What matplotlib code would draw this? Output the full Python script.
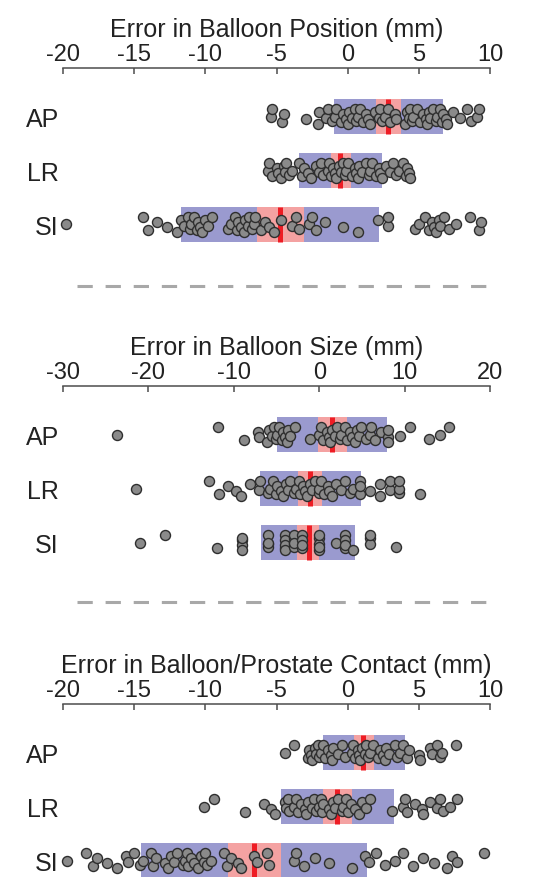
import numpy as np
import matplotlib.pyplot as plt
from matplotlib.lines import Line2D

plt.rcParams['font.family'] = ['Liberation Sans', 'DejaVu Sans']

categories = ['AP', 'LR', 'SI']

# --- Error in balloon position (mm)
pos_ap = [-5.4, -5.3, -4.6, -4.5, -2.9, -2.1, -2.0, -1.5, -1.4, -1.1, -0.9, -0.8, -0.5,
          -0.3, -0.1, 0.0, 0.1, 0.3, 0.5, 0.6, 0.7, 0.9, 1.1, 1.3, 1.4, 1.6, 1.9, 2.2,
          2.3, 2.4, 2.6, 2.8, 3.0, 3.3, 3.4, 4.0, 4.2, 4.3, 4.4, 4.5, 4.6, 4.9, 5.1,
          5.3, 5.5, 5.6, 5.7, 5.8, 6.0, 6.2, 6.3, 6.5, 6.6, 6.7, 6.9, 7.0, 7.4, 7.9,
          8.4, 8.7, 9.1, 9.2]
pos_lr = [-5.6, -5.5, -5.3, -5.0, -4.9, -4.7, -4.5, -4.4, -4.3, -4.1, -3.9, -3.4, -3.2,
          -3.1, -2.8, -2.6, -2.2, -2.0, -1.9, -1.7, -1.4, -1.3, -1.2, -1.0, -0.9, -0.8,
          -0.6, -0.5, -0.3, -0.2, -0.1, 0.0, 0.3, 0.5, 0.6, 0.7, 0.8, 1.0, 1.3, 1.5,
          1.6, 1.7, 2.0, 2.2, 2.3, 2.4, 2.7, 3.0, 3.2, 3.4, 3.6, 3.9, 4.1, 4.2, 4.3, 4.4]
pos_si = [-19.8, -14.4, -14.0, -13.4, -12.7, -12.0, -11.7, -11.5, -11.2, -11.1, -11.0,
          -10.8, -10.6, -10.5, -10.4, -10.2, -10.0, -9.8, -9.5, -8.4, -8.2, -7.9, -7.8,
          -7.7, -7.5, -7.3, -7.2, -7.0, -6.9, -6.7, -6.6, -6.5, -6.1, -5.8, -5.5, -5.2,
          -4.7, -3.9, -3.6, -3.4, -2.7, -2.5, -2.2, -1.6, -0.3, 0.7, 2.1, 2.8, 2.8, 4.7,
          5.0, 5.4, 5.7, 5.9, 6.1, 6.2, 6.4, 6.5, 6.8, 7.1, 7.6, 8.6, 9.2, 9.4]
pos_sd_lo = [-0.94, -3.40, -11.70]
pos_sd_hi = [6.70, 2.38, 2.18]
pos_ci_lo = [2.02, -1.20, -6.38]
pos_ci_hi = [3.78, 0.20, -3.10]
pos_mean = [2.82, -0.57, -4.77]

# --- Error in balloon size (mm)
size_ap = [-23.7, -11.8, -8.8, -7.2, -7.0, -6.1, -5.9, -5.5, -5.3, -5.1, -4.9, -4.7,
           -4.4, -4.2, -4.0, -3.8, -3.6, -3.4, -2.8, -1.1, 0.0, 0.2, 0.5, 0.9, 1.1, 1.3,
           1.5, 1.9, 2.1, 2.4, 2.6, 3.0, 3.3, 3.6, 3.8, 4.2, 4.4, 4.7, 4.9, 5.5, 5.9,
           6.1, 6.5, 7.2, 8.1, 8.1, 8.1, 9.5, 10.6, 12.9, 14.1, 15.2]
size_lr = [-21.5, -12.9, -11.7, -10.7, -9.8, -9.1, -8.1, -7.1, -6.9, -6.0, -5.8, -5.4,
           -5.1, -4.9, -4.5, -4.2, -3.9, -3.6, -3.4, -3.0, -2.7, -2.4, -2.2, -1.9, -1.7,
           -1.4, -1.1, -0.9, -0.5, 0.0, 0.0, 0.2, 0.6, 1.0, 1.2, 1.5, 2.0, 2.5, 3.0,
           3.6, 4.0, 4.8, 4.8, 4.8, 5.9, 7.1, 7.1, 8.3, 8.3, 9.4, 9.4, 9.4, 11.8]
size_si = [-21.0, -18.0, -12.0, -9, -9, -9, -9, -6, -6, -6, -6, -4, -4, -4, -4, -4,
           -3, -3, -3, -3, -3, -2, -2, -2, -2, 0, 0, 0, 0, 0, 2, 3, 3, 3, 3, 4, 6, 6, 6, 9]
size_sd_lo = [-5.0, -6.95, -6.76]
size_sd_hi = [7.97, 4.84, 4.18]
size_ci_lo = [-0.12, -2.5, -2.61]
size_ci_hi = [3.2, 0.33, 0.03]
size_mean = [1.45, -1.08, -1.25]

# --- Error in balloon/prostate contact (mm)
cont_ap = [-4.4, -3.8, -2.8, -2.7, -2.6, -2.5, -2.3, -2.2, -2.1, -2.0, -1.9, -1.7, -1.6,
           -1.4, -1.2, -1.1, -1.0, -0.7, -0.4, -0.2, 0.3, 0.4, 0.5, 0.7, 0.8, 0.9, 1.0,
           1.2, 1.3, 1.4, 1.6, 1.8, 2.1, 2.3, 2.5, 2.6, 2.7, 2.9, 3.3, 3.5, 3.7, 3.9,
           4.2, 4.3, 5.0, 5.1, 5.8, 5.9, 6.3, 6.5, 6.6, 7.6]
cont_lr = [-10.1, -9.4, -7.2, -5.9, -5.4, -5.1, -4.4, -4.3, -4.2, -4.1, -3.8, -3.6, -3.5,
           -3.3, -3.0, -2.9, -2.8, -2.5, -2.4, -2.2, -2.0, -1.9, -1.8, -1.7, -1.3, -1.2,
           -1.0, -0.9, -0.7, -0.4, -0.3, -0.1, 0.0, 0.2, 0.5, 0.8, 1.0, 1.3, 1.6, 3.1,
           3.9, 4.0, 4.2, 4.7, 5.2, 5.3, 5.8, 6.3, 6.5, 6.7, 7.2, 7.7]
cont_si = [-19.7, -18.4, -17.9, -17.6, -16.9, -16.2, -15.6, -15.4, -15.0, -14.6, -14.4,
           -13.8, -13.7, -13.5, -12.8, -12.6, -12.4, -12.2, -12.0, -11.6, -11.4, -11.3,
           -11.2, -11.0, -10.8, -10.5, -10.3, -10.1, -10.0, -9.9, -9.6, -8.7, -8.5, -8.2,
           -7.7, -7.5, -6.6, -6.4, -5.7, -5.5, -3.8, -3.6, -3.1, -2.3, -1.3, 0.3, 1.2,
           1.5, 2.0, 2.6, 3.3, 3.9, 4.6, 5.3, 6.1, 7.0, 7.3, 7.7, 9.6]
cont_sd_lo = [-1.71, -4.69, -14.5]
cont_sd_hi = [4.06, 3.29, 1.34]
cont_ci_lo = [0.47, -1.71, -8.44]
cont_ci_hi = [1.88, 0.28, -4.66]
cont_mean = [1.1, -0.72, -6.55]

panels = [
    ('Error in Balloon Position (mm)', (-20, 10), [-20, -15, -10, -5, 0, 5, 10],
     [pos_ap, pos_lr, pos_si], pos_sd_lo, pos_sd_hi, pos_ci_lo, pos_ci_hi, pos_mean, 69),
    ('Error in Balloon Size (mm)', (-30, 20), [-30, -20, -10, 0, 10, 20],
     [size_ap, size_lr, size_si], size_sd_lo, size_sd_hi, size_ci_lo, size_ci_hi, size_mean, 387),
    ('Error in Balloon/Prostate Contact (mm)', (-20, 10), [-20, -15, -10, -5, 0, 5, 10],
     [cont_ap, cont_lr, cont_si], cont_sd_lo, cont_sd_hi, cont_ci_lo, cont_ci_hi, cont_mean, 705),
]

W, H = 540, 878
ROW = 54.0          # px between rows
FIRST = 48.5        # px from axis line to first row
jitter = np.array([0.0, -0.13, 0.11, -0.05, 0.05, 0.13, -0.09, 0.02, -0.14, 0.08])
box_h = 0.63

fig = plt.figure(figsize=(W / 100, H / 100), dpi=100)

for title, xlim, ticks, pts, sd_lo, sd_hi, ci_lo, ci_hi, mean, top_px in panels:
    ytop = 1 - FIRST / ROW
    ybot = 3.6
    h_px = (ybot - ytop) * ROW
    ax = fig.add_axes([63 / W, 1 - (top_px + h_px) / H, 427 / W, h_px / H])
    for i in range(3):
        y = i + 1
        ax.barh(y, sd_hi[i] - sd_lo[i], left=sd_lo[i], height=box_h,
                color='#9a9acf', zorder=1)
        ax.barh(y, ci_hi[i] - ci_lo[i], left=ci_lo[i], height=box_h,
                color='#f4a2a2', zorder=2)
        ax.vlines(mean[i], y - box_h / 2, y + box_h / 2, color='#ee1c24',
                  lw=3.6, zorder=3)
        x = np.sort(np.array(pts[i], dtype=float))
        off = np.resize(jitter, len(x))
        ax.scatter(x, y + off, s=52, c='#8a8a8a', edgecolors='#2e2e2e',
                   linewidths=1.0, zorder=4, clip_on=False)
    ax.set_xlim(xlim)
    ax.set_ylim(ybot, ytop)
    ax.set_xticks(ticks)
    ax.set_xticklabels([str(t) for t in ticks])
    ax.set_yticks([1, 2, 3])
    ax.set_yticklabels(categories)
    ax.xaxis.tick_top()
    ax.xaxis.set_label_position('top')
    ax.set_xlabel(title, fontsize=18, labelpad=5, color='#222222')
    ax.tick_params(axis='x', direction='in', length=4, width=1.1, pad=2,
                   labelsize=17, color='#4d4d4d', labelcolor='#222222')
    ax.tick_params(axis='y', length=0, pad=3, labelsize=18, labelcolor='#222222')
    for s in ['left', 'right', 'bottom']:
        ax.spines[s].set_visible(False)
    ax.spines['top'].set_color('#4d4d4d')
    ax.spines['top'].set_linewidth(1.1)

# dashed separators
for ypx in [287, 603]:
    fig.add_artist(Line2D([77 / W, 487 / W], [1 - ypx / H, 1 - ypx / H],
                          color='#a8a8a8', lw=2.2, dashes=(5.0, 4.2)))

fig.savefig('out.png', dpi=100)
